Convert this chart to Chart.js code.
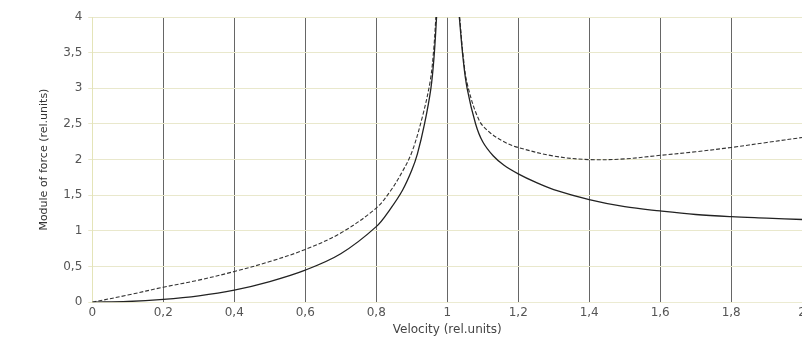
<!DOCTYPE html>
<html>
<head>
<meta charset="utf-8">
<script src="https://cdn.jsdelivr.net/npm/chart.js@4.4.1/dist/chart.umd.min.js"></script>
<style>
  html, body { margin: 0; padding: 0; background: #fff; overflow: hidden; }
  #wrap { width: 809px; height: 342px; }
</style>
</head>
<body>
<div id="wrap"><canvas id="graphCanvas"></canvas></div>
<script>
// tick labels
var xTicks = [0, 0.2, 0.4, 0.6, 0.8, 1, 1.2, 1.4, 1.6, 1.8, 2];
var yTicks = [0, 0.5, 1, 1.5, 2, 2.5, 3, 3.5, 4];

// solid curve, below resonance and above
var solidLeftX = [0, 0.1, 0.2, 0.3, 0.4, 0.5, 0.6, 0.7, 0.8, 0.84, 0.874, 0.9, 0.916, 0.936, 0.954, 0.963, 0.97];
var solidLeftY = [0, 0.01, 0.04, 0.09, 0.17, 0.29, 0.45, 0.68, 1.06, 1.31, 1.57, 1.85, 2.08, 2.5, 3.0, 3.45, 4.0];
var solidRightX = [1.034, 1.045, 1.056, 1.08, 1.1, 1.13, 1.16, 1.2, 1.25, 1.3, 1.4, 1.5, 1.6, 1.7, 1.8, 1.9, 2.0];
var solidRightY = [4, 3.4, 3.0, 2.5, 2.25, 2.05, 1.92, 1.8, 1.68, 1.58, 1.44, 1.34, 1.28, 1.23, 1.2, 1.18, 1.16];

// dashed curve
var dashLeftX = [0, 0.1, 0.2, 0.3, 0.4, 0.5, 0.6, 0.7, 0.8, 0.84, 0.87, 0.9, 0.93, 0.952, 0.962, 0.968];
var dashLeftY = [0, 0.1, 0.21, 0.31, 0.43, 0.57, 0.74, 0.97, 1.32, 1.56, 1.8, 2.1, 2.6, 3.1, 3.55, 4.0];
var dashRightX = [1.035, 1.045, 1.057, 1.09, 1.12, 1.16, 1.2, 1.3, 1.4, 1.5, 1.6, 1.7, 1.8, 1.9, 2.0];
var dashRightY = [4, 3.45, 3.05, 2.55, 2.38, 2.25, 2.17, 2.05, 2.0, 2.01, 2.06, 2.11, 2.17, 2.24, 2.31];

function pts(xs, ys) {
    var out = [];
    for (var i in xs) out.push({ x: xs[i], y: ys[i] });
    return out;
}

function fmt(v) {
    return String(v).replace('.', ',');
}

var solidStyle = { borderColor: '#222', borderWidth: 1.3, pointRadius: 0, tension: 0.35, fill: false };
var dashStyle = { borderColor: '#333', borderWidth: 1.1, borderDash: [4, 2], pointRadius: 0, tension: 0.35, fill: false };

var chartdata = {
    datasets: [
        Object.assign({ data: pts(solidLeftX, solidLeftY) }, solidStyle),
        Object.assign({ data: pts(solidRightX, solidRightY) }, solidStyle),
        Object.assign({ data: pts(dashLeftX, dashLeftY) }, dashStyle),
        Object.assign({ data: pts(dashRightX, dashRightY) }, dashStyle)
    ]
};

Chart.defaults.font.family = 'DejaVu Sans';

new Chart(document.getElementById('graphCanvas'), {
    type: 'line',
    data: chartdata,
    options: {
        responsive: true,
        maintainAspectRatio: false,
        animation: false,
        layout: { padding: { left: 34, right: 5, top: 17, bottom: 1 } },
        plugins: { legend: { display: false }, tooltip: { enabled: false } },
        scales: {
            x: {
                type: 'linear',
                min: 0, max: 2,
                afterBuildTicks: function (axis) {
                    axis.ticks = xTicks.map(function (v) { return { value: v }; });
                },
                ticks: { color: '#555', font: { size: 12 }, padding: 3, maxRotation: 0, autoSkip: false, callback: function (v) { return fmt(v); } },
                grid: {
                    color: function (ctx) { return ctx.tick && ctx.tick.value === 0 ? '#e4e4b8' : '#666'; },
                    lineWidth: 1,
                    tickLength: 0
                },
                border: { color: '#ecebd2' },
                title: { display: true, text: 'Velocity (rel.units)', color: '#444', font: { size: 12 }, padding: { top: 0 } }
            },
            y: {
                min: 0, max: 4,
                afterBuildTicks: function (axis) {
                    axis.ticks = yTicks.map(function (v) { return { value: v }; });
                },
                ticks: { color: '#555', font: { size: 12 }, padding: 6, callback: function (v) { return fmt(v); } },
                grid: { color: '#e9e8cc', lineWidth: 1, tickLength: 4 },
                border: { color: '#e4e4b8' },
                title: { display: true, text: 'Module of force (rel.units)', color: '#333', font: { size: 11 }, padding: { bottom: 6 } }
            }
        }
    }
});
</script>
</body>
</html>
